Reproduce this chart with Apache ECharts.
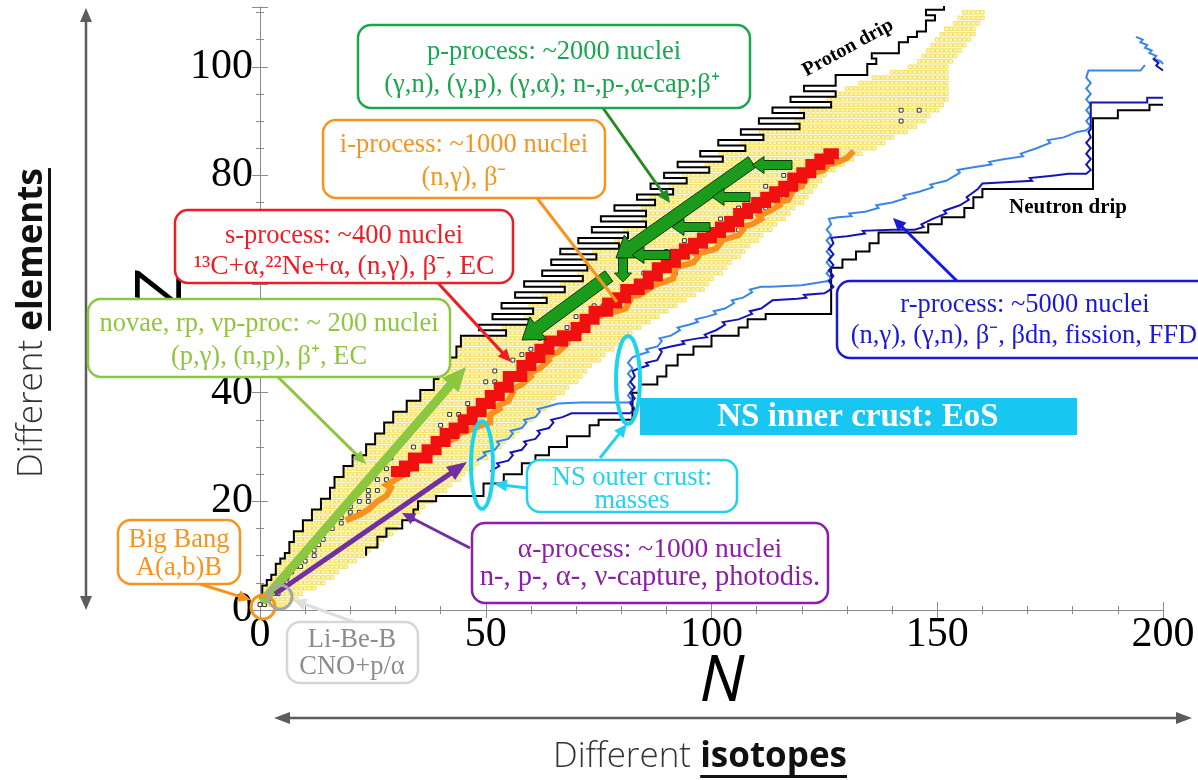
<!DOCTYPE html>
<html><head><meta charset="utf-8">
<script src="https://cdn.jsdelivr.net/npm/echarts@6/dist/echarts.min.js"></script>
<style>html,body{margin:0;padding:0;background:#fff}#c{width:1198px;height:780px}</style>
</head><body><div id="c"></div>
<script>
// ---------- DATA ----------
const xTickValues = [0, 50, 100, 150, 200];
const yTickValues = [0, 20, 40, 60, 80, 100];

// proton drip line: lowest bound N for Z = 1..111
const protonDripN = [
  0,0,1,1,2,3,4,4,5,6, 7,7,8,8,10,10,12,12,14,14,
  16,16,17,17,19,19,21,21,24,24, 26,26,28,28,30,30,33,33,36,36,
  39,39,40,40,42,42,44,44,45,45, 55,49,60,52,61,54,64,57,68,59,
  72,63,73,65,75,67,80,71,82,74, 86,76,86,79,88,84,92,87,95,90,
  100,93,103,98,108,102,112,107,120,111, 121,114,127,118,128,121,128,128,135,135,
  137,136,142,142,144,146,148,148,150,148, 152
];

// known nuclei rows: [Z, Nmin, Nmax]
const knownRows = [
  [1,0,6],[2,0,8],[3,1,9],[4,1,12],[5,2,14],[6,3,16],[7,4,17],[8,4,19],[9,5,21],[10,6,23],
  [11,7,24],[12,7,26],[13,8,27],[14,8,29],[15,10,30],[16,10,31],[17,12,33],[18,12,35],[19,14,36],[20,14,38],
  [21,16,39],[22,16,41],[23,17,42],[24,17,44],[25,19,45],[26,19,47],[27,21,48],[28,21,50],[29,24,51],[30,24,53],
  [31,26,54],[32,26,56],[33,28,57],[34,28,58],[35,30,60],[36,30,61],[37,33,63],[38,33,64],[39,36,65],[40,36,67],
  [41,39,68],[42,39,70],[43,40,71],[44,40,72],[45,42,73],[46,42,75],[47,44,76],[48,44,78],[49,45,79],[50,45,81],
  [51,55,82],[52,54,84],[53,60,86],[54,59,88],[55,61,90],[56,60,92],[57,64,94],[58,63,96],[59,68,98],[60,67,99],
  [61,72,100],[62,71,102],[63,73,103],[64,72,104],[65,75,106],[66,74,107],[67,80,108],[68,79,110],[69,82,111],[70,81,113],
  [71,86,114],[72,85,116],[73,86,117],[74,85,118],[75,88,120],[76,87,121],[77,92,122],[78,91,123],[79,95,124],[80,94,125],
  [81,100,127],[82,99,129],[83,103,131],[84,102,133],[85,108,136],[86,107,138],[87,112,140],[88,111,143],[89,120,145],[90,119,147],
  [91,121,148],[92,120,150],[93,127,151],[94,126,152],[95,128,152],[96,130,152],[97,133,152],[98,136,152],[99,140,152],[100,144,152],
  [101,146,153],[102,147,154],[103,148,155],[104,149,156],[105,150,157],[106,151,158],[107,152,158],[108,154,159],[109,155,160],[110,156,160]
];

// stable nuclei visible as black squares: [N, Z]
const stableNuclei = [
  [0,1],[1,1],[1,2],[2,2],[3,3],[4,3],[4,4],[5,5],[6,5],[6,6],[7,7],[8,8],[9,8],[10,9],[10,10],[12,10],
  [12,11],[12,12],[13,12],[14,13],[14,14],[16,15],[16,16],[18,16],[18,17],[20,17],[20,18],[22,18],[20,19],
  [22,20],[24,20],[24,21],[24,22],[26,22],[26,24],[28,24],[28,26],[29,28],[34,30],[40,34],[42,36],[44,36],
  [46,38],[50,42],[52,42],[52,44],[56,46],[58,47],[60,48],[62,50],[64,50],[68,52],[70,54],[72,54],[74,56],
  [76,56],[80,58],[84,58],[84,60],[88,60],[85,62],[92,62],[90,66],[92,66],[96,64],[94,68],[102,68],[102,72],
  [106,70],[106,74],[112,74],[112,78],[116,76],[116,80],[120,78],[142,90],[142,92],[146,92]
];

// neutron drip line: [N, Z]
const neutronDrip = [
  [23.5,10],[23.5,11.5],[26,11.5],[26,13.5],[28,13.5],[28,15],[31.5,15],[31.5,16.5],[34,16.5],[34,18.5],
  [35,18.5],[35,20],[39,20],[39,21],[49.5,21],[49.5,23.3],[54,23.3],[54,25],[58,25],[58,27],[61,27],
  [61,28.5],[64,28.5],[64,30],[68,30],[68,32],[73,32],[73,34],[75,34],[75,35],[82.5,35],[82.5,40],
  [84,40],[84,41.5],[88,41.5],[88,43],[90,43],[90,45],[92.5,45],[92.5,47],[96,47],[96,48.5],[100,48.5],
  [100,50.5],[106,50.5],[106,52],[108,52],[108,53.5],[112,53.5],[112,54.5],[126.5,54.5],[126.5,63],
  [129,63],[129,64.5],[132,64.5],[132,66],[135,66],[135,67.5],[137,67.5],[137,69.5],[148,69.5],[148,71],
  [151,71],[151,72.3],[156,72.3],[156,74],[158,74],[158,76],[160,76],[160,77.5],[184.5,77.5],[184.5,90.5],
  [190,90.5],[190,92],[197,92],[197,93],[200,93]
];

// s-process path: [N, Z]
const sProcess = [
  [29,25.5],[32,26.5],[34,28],[37,29.5],[39,31],[41,32.5],[43,33.5],[45,35],[47,36.5],[49,38],[51,39.5],
  [53,41],[55,43],[58,45],[60,46.5],[62,48],[64,49.5],[67,50.5],[70,52],[72,53.5],[74,55],[77,56.5],
  [79,57.5],[81,59],[84,60],[86,61.5],[88,63],[90,64],[92,65.5],[94,66.5],[96,67.5],[98,68.5],[100,69.5],
  [102,70.5],[104,71.5],[106,73],[108,74],[110,75],[112,76],[114,77],[116,78],[118,79.5],[120,80.5],
  [122,82],[124,83],[126,84],[127,85]
];

// i-process path: [N, Z]
const iProcess = [
  [19,16.5],[22,17.5],[24,18.5],[26,20],[28,21],[29,22.5],[28,23],[30,24],[32,25],[34,26.5],[33,27],
  [36,28],[38,29],[37.5,29.5],[40,30.5],[43,31.5],[42.5,32],[46,33],[49,34],[51,34.5],[51,36],[53,37],
  [52.5,37.5],[55,38.5],[56,40],[55.5,40.5],[58,41.5],[60,43],[59.5,43.5],[62,44.5],[64,46],[63.5,46.5],
  [66,47.5],[68,49],[67.5,49.5],[70,50.5],[72,52],[71.5,52.5],[74,53.5],[76,54.5],[79,55],[81,55.5],
  [82,57],[81.5,57.5],[84,58],[86,59],[85.5,59.5],[88,60],[90,60.5],[91.5,61],[92,62.5],[91.5,63],
  [94,63.5],[96,64],[97,65],[96.5,65.5],[99,66],[101,66.5],[102,67.5],[101.5,68],[104,68.5],[106,69],
  [107,70],[106.5,70.5],[109,71],[111,72],[110.5,72.5],[113,73.5],[115,74.5],[114.5,75],[117,75.5],
  [118,77],[117.5,77.5],[120,78],[121,79.5],[120.5,80],[123,80.5],[125,81],[126,82],[128,82.5],
  [130,83.2],[131.5,84.5]
];

// r-process paths: [N, Z]
const rPathLight = [
  [48,27.5],[50,28.5],[49.5,29],[52,29.5],[53,30.5],[52.5,31],[55,31.5],[56,32.5],[55.5,33],[58,33.5],
  [59,34.5],[58.5,35],[61,35.5],[62,36.5],[61.5,37],[64,37.5],[66,38],[71,38.2],[81.5,38.2],
  [82.5,38.5],[81.5,39.5],[82.5,40.5],[81.5,41.5],[82.5,42.5],[81.5,43.5],[82.5,44.5],[81.5,45.5],[82.5,46.5],
  [84,47],[86,47.5],[85.5,48],[88,48.5],[89,49.5],[88.5,50],[91,50.5],[93,51.5],[92.5,52],[95,52.5],
  [97,53],[96.5,53.5],[99,54],[101,54.5],[100.5,55],[103,55.5],[105,56.5],[104.5,57],[107,57.5],
  [109,58.5],[108.5,59],[111,59.5],[113,59.5],[120,59.8],[125.5,60.5],
  [126.5,61],[125.5,62],[126.5,63],[125.5,64],[126.5,65],[125.5,66],[126.5,67],[125.5,68],[126.5,69],
  [125.5,70],[126.5,71],[126,72],
  [128,72.3],[131,72.5],[130.5,73],[134,73.3],[137,74],[136.5,74.5],[140,75],[143,75.8],[142.5,76.3],
  [146,77],[149,77.8],[148.5,78.3],[152,79],[155,80.5],[154.5,81],[158,81.5],[162,82],[161.5,82.5],
  [165,83],[169,83.5],[168.5,84],[172,85],[175,86],[174.5,86.5],[178,87],[181,88],[183,88.3],
  [184,89],[183,90],[184,91],[183,92],[184,93],[183,94],[184,95],[183,96],[184,97],[183,98],[183.5,99.3],
  [195,99.3],[196,100.3]
];
const rPathLightTop = [
  [194,105.5],[195.5,105],[195,104.5],[196.5,104],[196,103.5],[197.5,103],[197,102.5],[198.5,102],
  [198,101.5],[199.5,101],[200,100.5]
];
const rPathDark = [
  [51,25.5],[53,26.5],[52.5,27],[55,27.5],[56,28.5],[55.5,29],[58,29.5],[59,30.5],[58.5,31],[61,31.5],
  [62,32.5],[61.5,33],[64,33.5],[65,34.5],[64.5,35],[67,35.5],[69,36.2],[82,36.2],
  [83,37],[82,38],[83,39],[82,40],[83,41],[82,42],[83,43],[82.5,44],
  [84,44.5],[86,45],[85.5,45.5],[88,46],[89,47.5],[88.5,48],[91,48.5],[94,49],[93.5,49.5],[97,50],
  [99,50.2],[98.5,50.7],[101,51.5],[103,52.5],[102.5,53],[106,53.5],[109,54.5],[108.5,55],[111,55.5],
  [113.5,57],[119,57.3],[121,57.5],[120.5,58],[125,58.3],[126,58.8],
  [127,59.5],[126,60.5],[127,61.5],[126,62.5],[127,63.5],[126,64.5],[127,65.5],[126,66.5],[127,67.5],[126.5,68.5],
  [130,68.8],[134,69.3],[133.5,69.8],[140,70],[145,70],[147,70.5],[146.5,71],[149,72],[152,73],[151.5,73.5],
  [155,74.5],[157,75.5],[156.5,76],[159,77.5],[160,78.5],[166,78.8],[171,79],[170.5,79.5],[176,80],
  [179,80.3],[183,80.3],
  [184,81],[183,82],[184,83],[183,84],[184,85],[183,86],[184,87],[183.5,88],
  [184,88.5],[184,93.4],[196.5,93.4],[196.5,94.3],[200,94.3]
];
const rPathDarkTop = [[197.8,101.5],[199,100.7],[198.5,100.2],[200,99.3]];

// ---------- derived geometry ----------
const protonDripLine = [];
protonDripN.forEach((n, i) => { const z = i + 1; protonDripLine.push([n - 0.5, z - 0.5], [n - 0.5, z + 0.5]); });
const knownCells = [];
knownRows.forEach(([z, a, b]) => { for (let n = a; n <= b; n++) knownCells.push([n, z]); });

function cellRender(fill, stroke, lw, frac) {
  return function (params, api) {
    const c = api.coord([api.value(0), api.value(1)]);
    const s = api.size([1, 1]);
    const w = s[0] * frac;
    return { type: 'rect', shape: { x: c[0] - w / 2, y: c[1] - w / 2, width: w, height: w },
      style: { fill: fill, stroke: stroke, lineWidth: lw } };
  };
}

// ---------- annotation helpers (pixel space) ----------
const SERIF = '"Liberation Serif", "Times New Roman", serif';
const SANS = '"Open Sans", Lato, sans-serif';
const FS = 26.5;
const G = [];
const measureCtx = document.createElement('canvas').getContext('2d');
function textWidth(text, weight, size, family) { measureCtx.font = weight + ' ' + size + 'px ' + family; return measureCtx.measureText(text).width; }
function arrowPoly(x1, y1, x2, y2, sw, hw, hl) {
  const dx = x2 - x1, dy = y2 - y1, L = Math.hypot(dx, dy), ux = dx / L, uy = dy / L, px = -uy, py = ux;
  const bx = x2 - ux * hl, by = y2 - uy * hl;
  return [[x1 + px * sw / 2, y1 + py * sw / 2], [bx + px * sw / 2, by + py * sw / 2], [bx + px * hw / 2, by + py * hw / 2],
    [x2, y2], [bx - px * hw / 2, by - py * hw / 2], [bx - px * sw / 2, by - py * sw / 2], [x1 - px * sw / 2, y1 - py * sw / 2]];
}
function bigArrow(x1, y1, x2, y2, sw, hw, hl, fill, stroke, z) {
  G.push({ type: 'polygon', z: z || 30, shape: { points: arrowPoly(x1, y1, x2, y2, sw, hw, hl) },
    style: { fill: fill, stroke: stroke || null, lineWidth: stroke ? 1 : 0 } });
}
function connector(x1, y1, x2, y2, color, lw, withHead, hl, hw) {
  hl = hl || 13; hw = hw || 12;
  const dx = x2 - x1, dy = y2 - y1, L = Math.hypot(dx, dy), ux = dx / L, uy = dy / L;
  const ex = withHead ? x2 - ux * hl * 0.8 : x2, ey = withHead ? y2 - uy * hl * 0.8 : y2;
  G.push({ type: 'line', z: 40, shape: { x1: x1, y1: y1, x2: ex, y2: ey }, style: { stroke: color, lineWidth: lw } });
  if (withHead) {
    const bx = x2 - ux * hl, by = y2 - uy * hl, px = -uy, py = ux;
    G.push({ type: 'polygon', z: 40, shape: { points: [[x2, y2], [bx + px * hw / 2, by + py * hw / 2], [bx - px * hw / 2, by - py * hw / 2]] },
      style: { fill: color } });
  }
}
function box(x, y, w, h, color, lw) {
  G.push({ type: 'rect', z: 50, shape: { x: x, y: y, width: w, height: h, r: 13 },
    style: { fill: '#fff', stroke: color, lineWidth: lw || 2.5 } });
}
function label(x, y, text, color, size, opts) {
  opts = opts || {};
  G.push({ type: 'text', z: 60, x: x, y: y, rotation: opts.rotation || 0,
    style: { text: text, fill: color, fontSize: size || FS, fontWeight: opts.weight || 'normal', fontFamily: SERIF,
      align: 'center', verticalAlign: 'middle' } });
}

// outer double arrows and captions
const GRAY = '#5c5c5c';
connector(86, 300, 86, 8, GRAY, 2.5, true, 14, 12);
connector(86, 300, 86, 610, GRAY, 2.5, true, 14, 12);
connector(700, 718, 274, 718, GRAY, 2.5, true, 16, 12);
connector(700, 718, 1192, 718, GRAY, 2.5, true, 16, 12);
(function () {
  const size = 35, wa = textWidth('Different ', 300, size, SANS), wb = textWidth('elements', 'bold', size, SANS);
  const wb2 = textWidth('isotopes', 'bold', size, SANS);
  const rich = { a: { fontSize: size, fontFamily: SANS, fontWeight: 300, fill: '#333' },
                 b: { fontSize: size, fontFamily: SANS, fontWeight: 'bold', fill: '#111' } };
  const cy = 323, cx = 32;
  G.push({ type: 'text', z: 60, x: cx, y: cy, rotation: Math.PI / 2,
    style: { text: '{a|Different }{b|elements}', align: 'center', verticalAlign: 'middle', rich: rich } });
  const bottom = cy + (wa + wb) / 2;
  G.push({ type: 'rect', z: 60, shape: { x: cx + 16, y: bottom - wa - wb, width: 3, height: wb }, style: { fill: '#111' } });
  const hx = 700, hy = 757;
  G.push({ type: 'text', z: 60, x: hx, y: hy,
    style: { text: '{a|Different }{b|isotopes}', align: 'center', verticalAlign: 'middle', rich: rich } });
  const left = hx - (wa + wb2) / 2;
  G.push({ type: 'rect', z: 60, shape: { x: left + wa, y: hy + 18, width: wb2, height: 3 }, style: { fill: '#111' } });
})();

// axis titles
G.push({ type: 'text', z: 5, x: 722, y: 683, style: { text: 'N', fontSize: 64, fontStyle: 'italic', fontFamily: '"Open Sans", sans-serif', fill: '#000', align: 'center', verticalAlign: 'middle' } });
G.push({ type: 'text', z: 5, x: 163, y: 290, rotation: Math.PI / 2, style: { text: 'Z', fontSize: 64, fontStyle: 'italic', fontFamily: '"Open Sans", sans-serif', fill: '#000', align: 'center', verticalAlign: 'middle' } });

// process arrows inside the plot
bigArrow(262, 602, 466, 367, 9, 22, 24, '#8dc63f');
bigArrow(275, 594, 467, 462, 5, 16, 20, '#7030a0');
const PG = '#1b9b1b', PGS = '#0b3d0b';
bigArrow(752, 162, 616, 258, 13, 28, 20, PG, PGS);
bigArrow(609, 276, 522, 340, 13, 28, 20, PG, PGS);
bigArrow(623, 258, 623, 282, 9, 17, 9, PG, PGS);
bigArrow(792, 165, 752, 165, 9, 17, 12, PG, PGS);
bigArrow(750, 197, 712, 197, 9, 17, 12, PG, PGS);
bigArrow(710, 227, 672, 227, 9, 17, 12, PG, PGS);
bigArrow(670, 255, 632, 255, 9, 17, 12, PG, PGS);

// circles / ellipses
G.push({ type: 'circle', z: 35, shape: { cx: 263, cy: 607, r: 12 }, style: { fill: null, stroke: '#f7941d', lineWidth: 3 } });
G.push({ type: 'circle', z: 35, shape: { cx: 280, cy: 597, r: 12 }, style: { fill: null, stroke: '#a6a6a6', lineWidth: 3 } });
G.push({ type: 'ellipse', z: 35, shape: { cx: 482, cy: 465, rx: 11, ry: 44 }, style: { fill: null, stroke: '#1dd3f0', lineWidth: 4 } });
G.push({ type: 'ellipse', z: 35, shape: { cx: 628, cy: 380, rx: 12, ry: 44 }, style: { fill: null, stroke: '#1dd3f0', lineWidth: 4 } });

// connectors
connector(603, 108, 670, 203, '#228b22', 3, true);
connector(537, 198, 617, 302, '#f7941d', 3, false);
connector(438, 283, 511, 362, '#ee1c24', 3, true);
connector(278, 377, 366, 464, '#8dc63f', 3, true);
connector(200, 584, 251, 600, '#f7941d', 3, true);
connector(354, 622, 293, 600, '#dedede', 3, true);
connector(470, 548, 402, 513, '#7030a0', 3, true);
connector(527, 488, 494, 484, '#22d3ef', 3, true);
connector(600, 458, 627, 424, '#22d3ef', 3, true);
connector(957, 281, 893, 218, '#1a1ad6', 3, true);

// boxes and texts
box(358, 25, 392, 83, '#1aa64f');
label(554, 52, 'p-process: ~2000 nuclei', '#1aa64f');
label(552, 85, '(γ,n), (γ,p), (γ,α); n-,p-,α-cap;β⁺', '#1aa64f');
box(323, 120, 282, 78, '#f7941d');
label(464, 145, 'i-process: ~1000 nuclei', '#f7941d');
label(464, 178, '(n,γ), β⁻', '#f7941d');
box(175, 210, 338, 73, '#ee1c24');
label(344, 236, 's-process: ~400 nuclei', '#ee1c24');
label(344, 267, '¹³C+α,²²Ne+α, (n,γ), β⁻, EC', '#ee1c24', 27.5);
box(88, 299, 362, 78, '#8dc63f');
label(269, 324, 'novae, rp, νp-proc: ~ 200 nuclei', '#8dc63f');
label(269, 357, '(p,γ), (n,p), β⁺, EC', '#8dc63f');
box(118, 520, 122, 64, '#f7941d');
label(179, 540, 'Big Bang', '#f7941d');
label(179, 568, 'A(a,b)B', '#f7941d');
box(287, 622, 131, 61, '#d6d6d6');
label(352, 640, 'Li-Be-B', '#8c8c8c');
label(352, 667, 'CNO+p/α', '#8c8c8c');
box(472, 523, 356, 80, '#8b1fa8');
label(650, 550, 'α-process: ~1000 nuclei', '#8b1fa8', 27.5);
label(650, 578, 'n-, p-, α-, ν-capture, photodis.', '#8b1fa8', 28.5);
box(527, 460, 210, 52, '#22d3ef');
label(632, 478, 'NS outer crust:', '#22d3ef');
label(632, 501, 'masses', '#22d3ef');
G.push({ type: 'rect', z: 50, shape: { x: 640, y: 398, width: 437, height: 37 }, style: { fill: '#17c6f1' } });
label(858, 417, 'NS inner crust: EoS', '#fff', 33, { weight: 'bold' });
box(837, 281, 380, 77, '#1a1ad6');
label(1025, 305, 'r-process: ~5000 nuclei', '#1a1ad6');
label(1024, 336, '(n,γ), (γ,n), β⁻, βdn, fission, FFD', '#1a1ad6');
label(848, 48, 'Proton drip', '#000', 20, { rotation: 0.5, weight: 'bold' });
label(1068, 208, 'Neutron drip', '#000', 21, { weight: 'bold' });

// ---------- chart ----------
const AX = '#8a8a8a';
const baseAxis = {
  type: 'value', splitLine: { show: false },
  axisLine: { show: true, lineStyle: { color: AX, width: 1 } },
  axisTick: { show: true, inside: true, length: 8, lineStyle: { color: AX } },
  minorTick: { show: true, length: 4, lineStyle: { color: AX } }
};
function lineSeries(data, color, width, z, step) {
  return { type: 'line', data: data, symbol: 'none', showSymbol: false, clip: true, z: z, step: step || false,
    lineStyle: { color: color, width: width, join: 'miter' }, silent: true, animation: false };
}
const option = {
  animation: false,
  backgroundColor: '#fff',
  grid: { left: 260, right: 35, top: 7, bottom: 170, containLabel: false },
  xAxis: [
    Object.assign({}, baseAxis, { min: 0, max: 200, interval: 50, position: 'bottom',
      minorTick: Object.assign({}, baseAxis.minorTick, { splitNumber: 5 }),
      axisLabel: { show: true, margin: 4, fontSize: 42, fontFamily: SERIF, color: '#000',
        formatter: v => (xTickValues.indexOf(v) >= 0 ? String(v) : '') } }),
    Object.assign({}, baseAxis, { min: 0, max: 200, interval: 50, position: 'top',
      minorTick: Object.assign({}, baseAxis.minorTick, { splitNumber: 5 }), axisLabel: { show: false } })
  ],
  yAxis: [
    Object.assign({}, baseAxis, { min: 0, max: 111, interval: 20, position: 'left',
      minorTick: Object.assign({}, baseAxis.minorTick, { splitNumber: 4 }),
      axisLabel: { show: true, margin: 7, fontSize: 42, fontFamily: SERIF, color: '#000', padding: [0, 0, 21, 0],
        formatter: v => (yTickValues.indexOf(v) >= 0 && v !== 60 ? String(v) : '') } }),
    Object.assign({}, baseAxis, { min: 0, max: 111, interval: 20, position: 'right',
      minorTick: Object.assign({}, baseAxis.minorTick, { splitNumber: 4 }), axisLabel: { show: false } })
  ],
  series: [
    { type: 'custom', coordinateSystem: 'cartesian2d', data: knownCells, z: 1, silent: true,
      renderItem: cellRender('#fff6bd', '#efdb45', 0.8, 0.8) },
    { type: 'custom', coordinateSystem: 'cartesian2d', data: stableNuclei, z: 2, silent: true,
      renderItem: cellRender('#ffffff', '#333333', 1, 0.85) },
    lineSeries(protonDripLine, '#000', 2, 3),
    lineSeries(neutronDrip, '#000', 2, 3),
    lineSeries(rPathLight, '#3a86e8', 2, 4),
    lineSeries(rPathLightTop, '#3a86e8', 2, 4),
    lineSeries(rPathDark, '#1515b5', 2, 4),
    lineSeries(rPathDarkTop, '#1515b5', 2, 4),
    lineSeries(iProcess, '#f7901e', 6, 5),
    lineSeries(sProcess, '#f01010', 11, 6, 'end')
  ],
  graphic: G
};
const chart = echarts.init(document.getElementById('c'));
chart.setOption(option);
</script>
</body></html>
